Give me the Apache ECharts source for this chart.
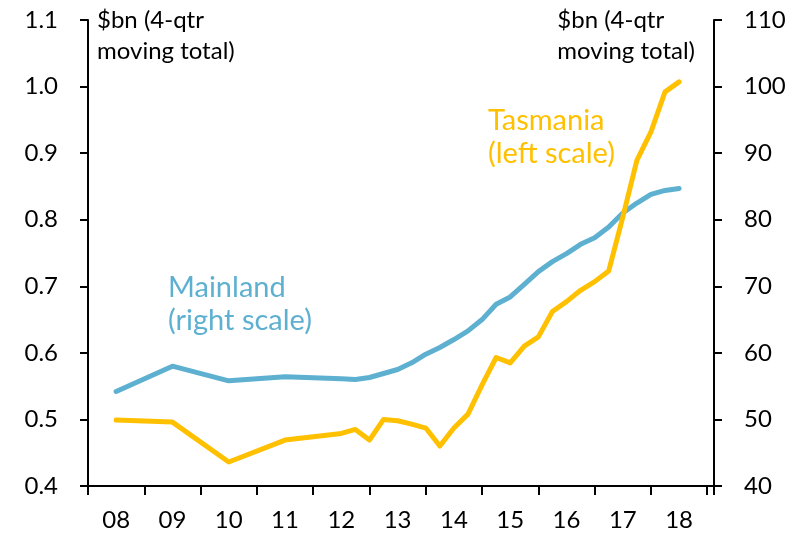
<!DOCTYPE html>
<html>
<head>
<meta charset="utf-8">
<script src="https://cdn.jsdelivr.net/npm/echarts@6/dist/echarts.min.js"></script>
<style>
  html, body { margin: 0; padding: 0; background: #fff; }
  #chart { width: 808px; height: 538px; }
</style>
</head>
<body>
<div id="chart"></div>
<script>
// year positions (decimal years), annual early then quarterly
const tasYears = [2008.5, 2009.5, 2010.5, 2011.5, 2012.5, 2012.75, 2013.0, 2013.25, 2013.5, 2013.75,
  2014.0, 2014.25, 2014.5, 2014.75, 2015.0, 2015.25, 2015.5, 2015.75, 2016.0, 2016.25, 2016.5,
  2016.75, 2017.0, 2017.25, 2017.5, 2017.75, 2018.0, 2018.25, 2018.5]
const tasmania = [0.499, 0.496, 0.436, 0.469, 0.479, 0.485, 0.469, 0.500, 0.498, 0.493,
  0.487, 0.460, 0.487, 0.508, 0.552, 0.593, 0.585, 0.610, 0.624, 0.662, 0.677,
  0.694, 0.707, 0.723, 0.804, 0.889, 0.932, 0.992, 1.007]
const mainYears = tasYears
const mainland = [54.2, 58.0, 55.8, 56.4, 56.1, 56.0, 56.3, 56.9, 57.5, 58.5,
  59.8, 60.8, 62.0, 63.3, 65.0, 67.3, 68.4, 70.3, 72.2, 73.7, 74.9,
  76.3, 77.3, 78.9, 81.0, 82.5, 83.8, 84.4, 84.7]
const yearLabels = ['08', '09', '10', '11', '12', '13', '14', '15', '16', '17', '18']

const FONT = 'Lato'
const xMin = 2008
const xMax = 2019.12

const chart = echarts.init(document.getElementById('chart'))
chart.setOption({
  animation: false,
  textStyle: { fontFamily: FONT },
  grid: { left: 88, right: 94, top: 20, bottom: 52 },
  xAxis: [
    {
      type: 'value',
      min: xMin,
      max: xMax,
      interval: 1,
      splitLine: { show: false },
      axisLine: { lineStyle: { color: '#000', width: 2 } },
      axisTick: { length: 9, lineStyle: { color: '#000', width: 2 } },
      axisLabel: { show: false }
    },
    {
      // label axis shifted by half a year so labels sit between ticks
      type: 'value',
      position: 'bottom',
      min: xMin - 0.5,
      max: xMax - 0.5,
      interval: 0.5,
      splitLine: { show: false },
      axisLine: { show: false },
      axisTick: { show: false },
      axisLabel: {
        color: '#000',
        fontSize: 24,
        fontFamily: FONT,
        margin: 22,
        formatter: function (v) {
          if (!Number.isInteger(v)) return ''
          const i = v - 2008
          return yearLabels[i] || ''
        }
      }
    }
  ],
  yAxis: [
    {
      type: 'value',
      min: 0.4,
      max: 1.1,
      interval: 0.1,
      splitLine: { show: false },
      axisLine: { show: true, lineStyle: { color: '#000', width: 2 } },
      axisTick: { show: true, length: 8, lineStyle: { color: '#000', width: 2 } },
      axisLabel: {
        color: '#000', fontSize: 24, fontFamily: FONT, margin: 30,
        formatter: v => v.toFixed(1)
      }
    },
    {
      type: 'value',
      position: 'right',
      min: 40,
      max: 110,
      interval: 10,
      splitLine: { show: false },
      axisLine: { show: true, lineStyle: { color: '#000', width: 2 } },
      axisTick: { show: true, length: 8, lineStyle: { color: '#000', width: 2 } },
      axisLabel: { color: '#000', fontSize: 24, fontFamily: FONT, margin: 30 }
    }
  ],
  series: [
    {
      name: 'Mainland',
      type: 'line',
      xAxisIndex: 0,
      yAxisIndex: 1,
      data: mainYears.map((y, i) => [y, mainland[i]]),
      showSymbol: false,
      lineStyle: { color: '#5eb0d1', width: 5, cap: 'round', join: 'round' }
    },
    {
      name: 'Tasmania',
      type: 'line',
      xAxisIndex: 0,
      yAxisIndex: 0,
      data: tasYears.map((y, i) => [y, tasmania[i]]),
      showSymbol: false,
      lineStyle: { color: '#ffc000', width: 5, cap: 'round', join: 'round' }
    }
  ],
  graphic: [
    {
      type: 'text', left: 97, top: 5,
      style: { text: '$bn (4-qtr\nmoving total)', fill: '#000', font: '24px ' + FONT, lineHeight: 31 }
    },
    {
      type: 'text', right: 113, top: 5,
      style: { text: '$bn (4-qtr\nmoving total)', fill: '#000', font: '24px ' + FONT, lineHeight: 31, align: 'right' }
    },
    {
      type: 'text', left: 168, top: 271,
      style: { text: 'Mainland\n(right scale)', fill: '#5eb0d1', font: '29px ' + FONT, lineHeight: 33 }
    },
    {
      type: 'text', right: 193, top: 104,
      style: { text: 'Tasmania\n(left scale)', fill: '#ffc000', font: '29px ' + FONT, lineHeight: 33, align: 'right' }
    }
  ]
})
</script>
</body>
</html>
